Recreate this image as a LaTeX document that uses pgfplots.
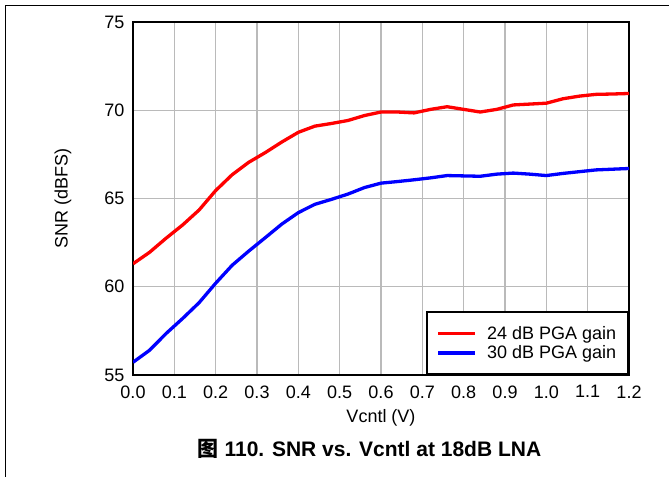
\documentclass[border=0pt]{standalone}
\usepackage{pgfplots}
\usepackage{pgfplotstable}
\pgfplotsset{compat=1.18}
\usepackage{fontspec}
\setmainfont{Liberation Sans}
\newfontfamily\cjk{Noto Sans CJK SC}

\pgfplotstableread{
x y
0.00 61.30
0.04 61.95
0.08 62.75
0.12 63.50
0.16 64.35
0.20 65.45
0.24 66.35
0.28 67.05
0.32 67.60
0.36 68.20
0.40 68.75
0.44 69.10
0.48 69.25
0.52 69.42
0.56 69.70
0.60 69.90
0.64 69.90
0.68 69.85
0.72 70.05
0.76 70.20
0.80 70.05
0.84 69.90
0.88 70.05
0.92 70.30
0.96 70.35
1.00 70.40
1.04 70.65
1.08 70.80
1.12 70.90
1.16 70.92
1.20 70.95
}\redtable

\pgfplotstableread{
x y
0.00 55.72
0.04 56.40
0.08 57.35
0.12 58.20
0.16 59.10
0.20 60.20
0.24 61.22
0.28 62.02
0.32 62.78
0.36 63.55
0.40 64.20
0.44 64.67
0.48 64.95
0.52 65.25
0.56 65.62
0.60 65.87
0.64 65.96
0.68 66.06
0.72 66.17
0.76 66.30
0.80 66.28
0.84 66.26
0.88 66.38
0.92 66.44
0.96 66.38
1.00 66.30
1.04 66.42
1.08 66.52
1.12 66.62
1.16 66.66
1.20 66.70
}\bluetable

\begin{document}
\begin{tikzpicture}
\useasboundingbox (-133bp,-102bp) rectangle (536bp,375bp);
\draw[line width=1bp] (-127bp,-102bp) -- (-127bp,369.5bp) -- (536bp,369.5bp);
\begin{axis}[
  at={(0,0)}, anchor=south west,
  scale only axis,
  width=496bp, height=353bp,
  xmin=0, xmax=1.2, ymin=55, ymax=75,
  xtick={0,0.1,0.2,0.3,0.4,0.5,0.6,0.7,0.8,0.9,1.0,1.1,1.2},
  ytick={55,60,65,70,75},
  grid=major,
  major grid style={color=black!27, line width=1.1bp},
  axis line style={line width=2.2bp},
  major tick length=0pt,
  tick style={draw=none},
  /pgf/number format/assume math mode=true,
  tick label style={font=\fontsize{18bp}{20bp}\selectfont},
  xticklabel style={/pgf/number format/.cd, fixed, fixed zerofill, precision=1, /tikz/.cd, yshift=-7bp},
  yticklabel style={/pgf/number format/.cd, fixed, precision=0, /tikz/.cd, xshift=-5bp},
  legend style={at={(1,0)}, anchor=south east, draw=black, line width=1.6bp, fill=white,
    font=\fontsize{18bp}{20bp}\selectfont, inner xsep=10bp, inner ysep=12bp,
    nodes={inner sep=2bp}, row sep=1bp, column sep=8bp},
  legend cell align=left,
  legend image code/.code={\draw[#1] (0bp,0bp) -- (37bp,0bp);},
]
\addplot[red, line width=3.3bp] table {\redtable};
\addlegendentry{24 dB PGA gain}
\addplot[blue, line width=3.3bp] table {\bluetable};
\addlegendentry{30 dB PGA gain}
\end{axis}
\node[font=\fontsize{18bp}{20bp}\selectfont] at (248bp,-43bp) {Vcntl (V)};
\node[rotate=90, font=\fontsize{18bp}{20bp}\selectfont] at (-70bp,176.5bp) {SNR (dBFS)};
\node[font=\fontsize{21bp}{24bp}\selectfont\bfseries] at (236.5bp,-74bp) {{\cjk 图} 110. SNR vs. Vcntl at 18dB LNA};
\end{tikzpicture}
\end{document}
